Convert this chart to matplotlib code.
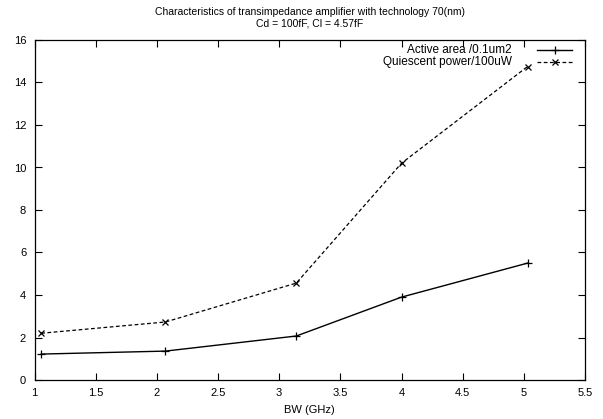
import matplotlib
matplotlib.use("Agg")
import matplotlib.pyplot as plt

bw = [1.055, 2.07, 3.14, 4.0, 5.03]
active_area = [1.22, 1.36, 2.07, 3.9, 5.5]
quiescent_power = [2.2, 2.73, 4.56, 10.2, 14.75]
labels = ["Active area /0.1um2", "Quiescent power/100uW"]

plt.rcParams['font.family'] = ['Liberation Sans', 'DejaVu Sans']
W, H = 603, 419
L, R, T, B = 34.5, 585, 40, 380
fig = plt.figure(figsize=(W/100, H/100), dpi=100)
ax = fig.add_axes([L/W, (H-B)/H, (R-L)/W, (B-T)/H])

ax.plot(bw, active_area, color='black', lw=1.0, marker='+', ms=6, mew=0.9)
ax.plot(bw, quiescent_power, color='black', lw=0.9, ls=(0, (3, 2)), marker='x', ms=5, mew=0.9)

ax.set_xlim(1, 5.5)
ax.set_ylim(0, 16)
ax.set_xticks([1 + 0.5*i for i in range(10)])
ax.set_xticklabels(['1', '1.5', '2', '2.5', '3', '3.5', '4', '4.5', '5', '5.5'])
ax.set_yticks(range(0, 17, 2))
ax.tick_params(direction='in', top=True, right=True, labelsize=8, length=5, width=0.8, pad=6)
for s in ax.spines.values():
    s.set_linewidth(0.9)
ax.set_xlabel('BW (GHz)', fontsize=8, labelpad=5)

cx = (L + R) / 2 / W
fig.text(cx, 1 - 12/H, 'Characteristics of transimpedance amplifier with technology 70(nm)',
         ha='center', va='center', fontsize=7.5)
fig.text(cx, 1 - 23/H, 'Cd = 100fF, Cl = 4.57fF', ha='center', va='center', fontsize=7.5)

# gnuplot-style legend (text right-justified, sample on the right)
tr = ax.transAxes
def ax_x(px):
    return (px - L) / (R - L)
def ax_y(py):
    return (B - py) / (B - T)
rows = [(50, dict(ls='-', marker='+', ms=6, lw=1.0)), (62, dict(ls=(0, (3, 2)), marker='x', ms=5, lw=0.9))]
for lab, (py, st) in zip(labels, rows):
    ax.text(ax_x(512), ax_y(py), lab, transform=tr, ha='right', va='center', fontsize=8.5)
    ax.plot([ax_x(537), ax_x(572)], [ax_y(py)]*2, transform=tr, color='black', ls=st['ls'], lw=st['lw'])
    ax.plot([ax_x(554.5)], [ax_y(py)], transform=tr, color='black', marker=st['marker'], ms=st['ms'], mew=0.9)

fig.savefig('out.png', dpi=100)
